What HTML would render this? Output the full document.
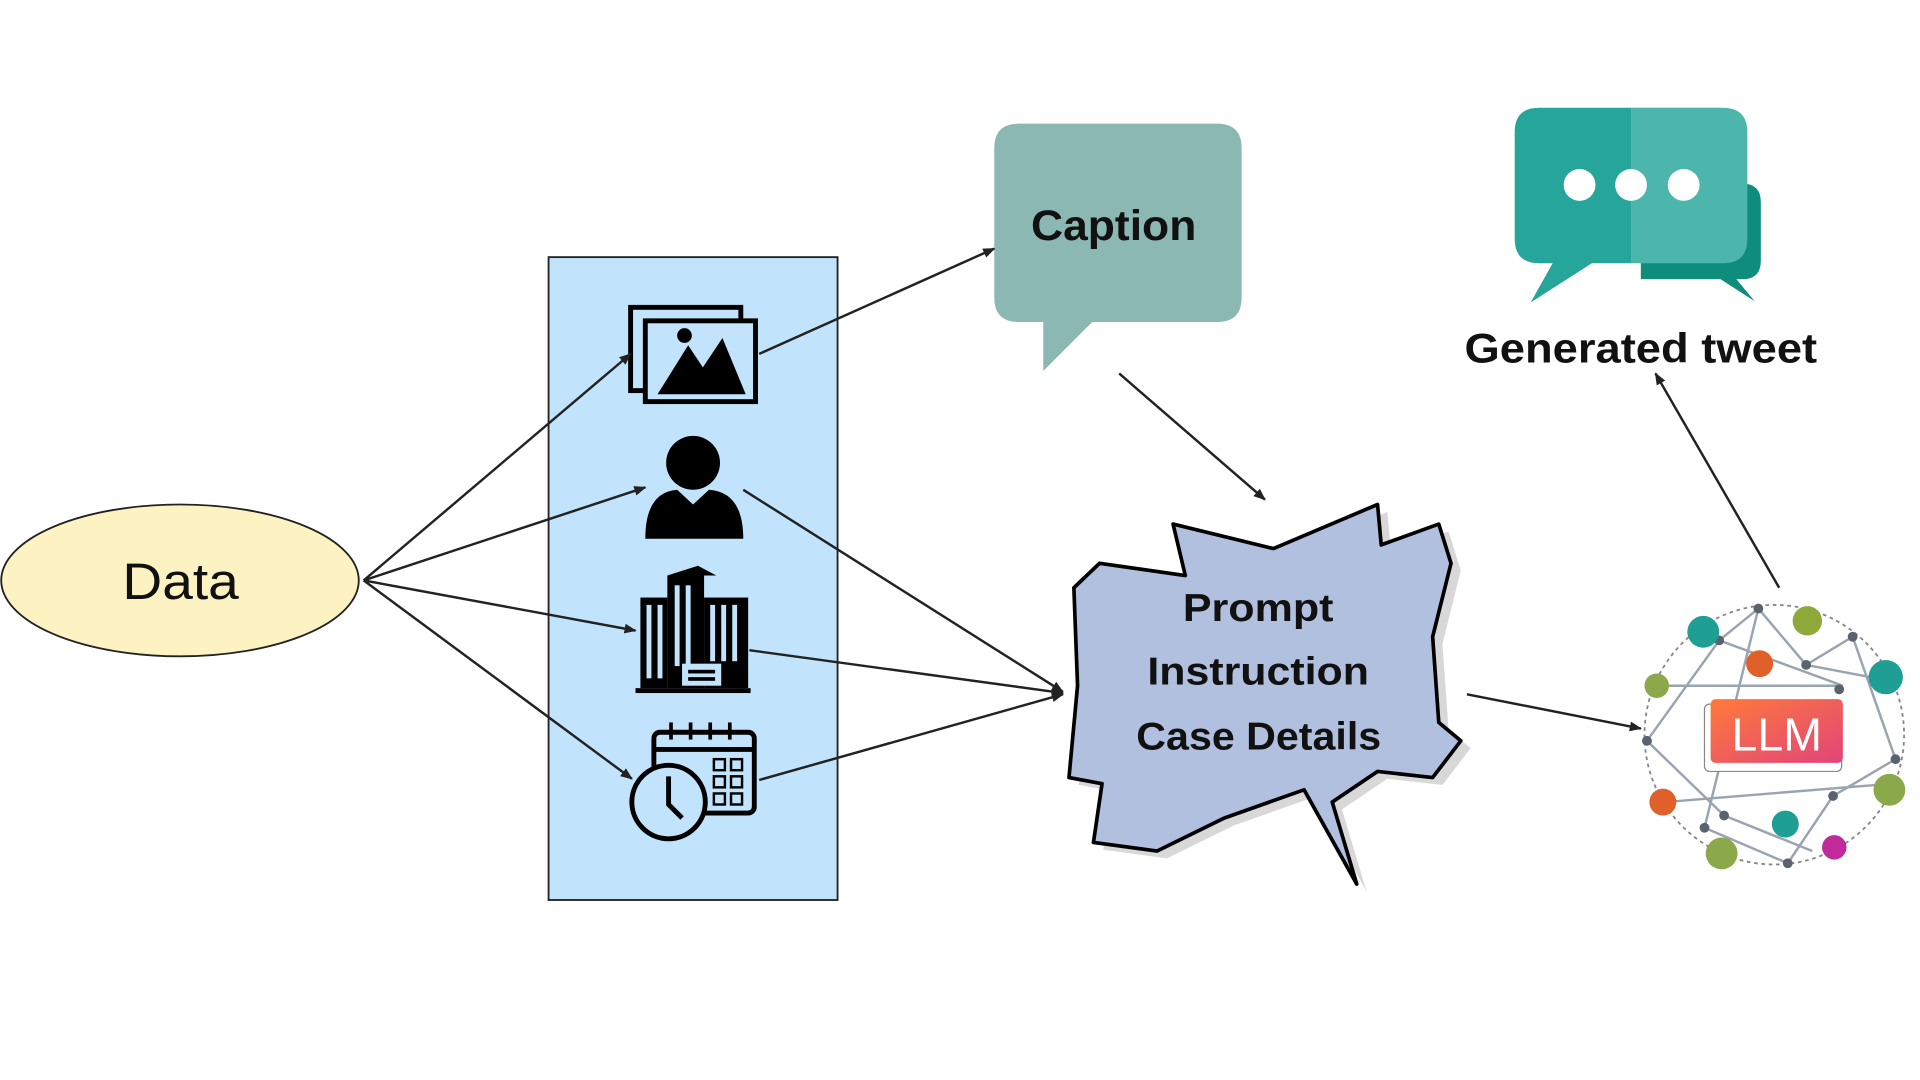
<!DOCTYPE html>
<html><head><meta charset="utf-8"><style>
html,body{margin:0;padding:0;background:#fff;width:1920px;height:1080px;overflow:hidden}
svg{display:block}
text{font-family:"Liberation Sans","DejaVu Sans",sans-serif}
</style></head><body>
<svg width="1920" height="1080" viewBox="0 0 1568 882" preserveAspectRatio="none" xmlns="http://www.w3.org/2000/svg">
<defs>
<marker id="a" markerWidth="10" markerHeight="10" refX="9" refY="5" orient="auto" markerUnits="userSpaceOnUse"><path d="M0,1 L10,5 L0,9 Z" fill="#222"/></marker>
<linearGradient id="g" x1="0" y1="0" x2="1" y2="1"><stop offset="0" stop-color="#ff7a3a"/><stop offset="1" stop-color="#e0457a"/></linearGradient>
</defs>
<rect width="1568" height="882" fill="#fff"/>
<ellipse cx="147" cy="474" rx="146" ry="62" fill="#fdf3c2" stroke="#222" stroke-width="1.5"/>
<text x="100" y="489" font-size="42" textLength="95" lengthAdjust="spacingAndGlyphs" fill="#111">Data</text>
<rect x="448" y="210" width="236" height="525" fill="#c1e4fc" stroke="#222" stroke-width="1.5"/>
<rect x="515" y="251" width="90" height="68" fill="none" stroke="#000" stroke-width="4"/>
<rect x="527" y="262" width="90" height="66" fill="#c1e4fc" stroke="#000" stroke-width="4"/>
<path d="M537,322 L562,282 L574,300 L590,276 L609,322 Z" fill="#000"/>
<circle cx="559" cy="274" r="6" fill="#000"/>
<circle cx="566" cy="378" r="22" fill="#000"/>
<path d="M527,440 Q527,402 553,400 L566,412 L579,400 Q607,402 607,440 Z" fill="#000"/>
<g fill="#000">
<rect x="519" y="562" width="94" height="4"/>
<rect x="523" y="488" width="22" height="74"/>
<rect x="545" y="470" width="30" height="92"/>
<rect x="575" y="488" width="36" height="74"/>
<path d="M545,470 L570,462 L585,470 Z"/>
</g>
<g fill="#c1e4fc">
<rect x="528" y="494" width="4" height="60"/><rect x="537" y="494" width="4" height="60"/>
<rect x="551" y="478" width="4" height="66"/><rect x="560" y="478" width="4" height="66"/>
<rect x="580" y="494" width="4" height="46"/><rect x="589" y="494" width="4" height="46"/><rect x="598" y="494" width="4" height="46"/>
<rect x="557" y="542" width="32" height="18"/>
</g>
<rect x="562" y="547" width="22" height="3" fill="#000"/><rect x="562" y="553" width="22" height="3" fill="#000"/>
<rect x="534" y="598" width="82" height="66" rx="5" fill="none" stroke="#000" stroke-width="4"/>
<line x1="534" y1="612" x2="616" y2="612" stroke="#000" stroke-width="4"/>
<g stroke="#000" stroke-width="3"><line x1="548" y1="590" x2="548" y2="604"/><line x1="564" y1="590" x2="564" y2="604"/><line x1="580" y1="590" x2="580" y2="604"/><line x1="596" y1="590" x2="596" y2="604"/></g>
<g fill="none" stroke="#000" stroke-width="2"><rect x="583" y="620" width="9" height="9"/><rect x="597" y="620" width="9" height="9"/><rect x="583" y="634" width="9" height="9"/><rect x="597" y="634" width="9" height="9"/><rect x="583" y="648" width="9" height="9"/><rect x="597" y="648" width="9" height="9"/></g>
<circle cx="546" cy="655" r="30" fill="#c1e4fc" stroke="#000" stroke-width="4"/>
<path d="M546,634 L546,657 L557,668" fill="none" stroke="#000" stroke-width="4"/>
<path d="M832,101 H994 Q1014,101 1014,121 V243 Q1014,263 994,263 H892 L852,303 V263 H832 Q812,263 812,243 V121 Q812,101 832,101 Z" fill="#8cb8b3"/>
<text x="842" y="196" font-size="35" font-weight="bold" textLength="135" lengthAdjust="spacingAndGlyphs" fill="#111">Caption</text>
<path d="M1340,150 H1423 Q1438,150 1438,165 V213 Q1438,228 1423,228 H1418 L1433,246 L1405,228 H1340 Z" fill="#0e8c7c"/>
<path d="M1257,88 H1332 V215 H1300 L1250,247 L1268,215 H1257 Q1237,215 1237,195 V108 Q1237,88 1257,88 Z" fill="#26a69a"/>
<path d="M1332,88 H1407 Q1427,88 1427,108 V195 Q1427,215 1407,215 H1332 Z" fill="#4db6ac"/>
<circle cx="1290" cy="151" r="13" fill="#fff"/><circle cx="1332" cy="151" r="13" fill="#fff"/><circle cx="1375" cy="151" r="13" fill="#fff"/>
<text x="1196" y="296" font-size="34" font-weight="bold" textLength="288" lengthAdjust="spacingAndGlyphs" fill="#111">Generated tweet</text>
<g transform="translate(8,6)"><path d="M958,428 L1040,448 L1125,412 L1128,445 L1175,428 L1185,460 L1170,520 L1175,590 L1193,605 L1170,635 L1125,630 L1088,655 L1108,722 L1065,645 L1000,668 L945,695 L893,688 L900,640 L873,635 L880,560 L877,480 L898,460 L968,470 Z" fill="#d8d8d8"/></g>
<path d="M958,428 L1040,448 L1125,412 L1128,445 L1175,428 L1185,460 L1170,520 L1175,590 L1193,605 L1170,635 L1125,630 L1088,655 L1108,722 L1065,645 L1000,668 L945,695 L893,688 L900,640 L873,635 L880,560 L877,480 L898,460 L968,470 Z" fill="#b0c0de" stroke="#000" stroke-width="3" stroke-linejoin="round"/>
<g font-size="32" font-weight="bold" fill="#111" lengthAdjust="spacingAndGlyphs">
<text x="966" y="507" textLength="123" lengthAdjust="spacingAndGlyphs">Prompt</text>
<text x="937" y="559" textLength="181" lengthAdjust="spacingAndGlyphs">Instruction</text>
<text x="928" y="612" textLength="200" lengthAdjust="spacingAndGlyphs">Case Details</text></g>
<circle cx="1449" cy="600" r="106" fill="none" stroke="#888" stroke-width="1.5" stroke-dasharray="3,3"/>
<g stroke="#9aa4b0" stroke-width="2">
<line x1="1436" y1="497" x2="1404" y2="523"/><line x1="1436" y1="497" x2="1475" y2="543"/><line x1="1436" y1="497" x2="1392" y2="676"/>
<line x1="1513" y1="520" x2="1475" y2="543"/><line x1="1513" y1="520" x2="1548" y2="620"/><line x1="1345" y1="605" x2="1404" y2="523"/>
<line x1="1345" y1="605" x2="1408" y2="666"/><line x1="1475" y1="543" x2="1538" y2="555"/><line x1="1497" y1="650" x2="1548" y2="620"/>
<line x1="1497" y1="650" x2="1460" y2="705"/><line x1="1408" y1="666" x2="1480" y2="695"/><line x1="1404" y1="523" x2="1505" y2="560"/>
<line x1="1350" y1="560" x2="1505" y2="560"/><line x1="1392" y1="676" x2="1460" y2="705"/><line x1="1360" y1="655" x2="1545" y2="640"/>
</g>
<g fill="#5a6270"><circle cx="1436" cy="497" r="4"/><circle cx="1513" cy="520" r="4"/><circle cx="1475" cy="543" r="4"/><circle cx="1404" cy="523" r="4"/><circle cx="1345" cy="605" r="4"/><circle cx="1548" cy="620" r="4"/><circle cx="1497" cy="650" r="4"/><circle cx="1408" cy="666" r="4"/><circle cx="1460" cy="705" r="4"/><circle cx="1392" cy="676" r="4"/><circle cx="1502" cy="563" r="4"/></g>
<circle cx="1391" cy="516" r="13" fill="#1f9e94"/><circle cx="1476" cy="507" r="12" fill="#8ea83a"/><circle cx="1437" cy="542" r="11" fill="#e0602a"/>
<circle cx="1353" cy="560" r="10" fill="#8ba84a"/><circle cx="1540" cy="553" r="14" fill="#1f9e94"/><circle cx="1543" cy="645" r="13" fill="#8ba84a"/>
<circle cx="1358" cy="655" r="11" fill="#e0602a"/><circle cx="1458" cy="673" r="11" fill="#1f9e94"/><circle cx="1498" cy="692" r="10" fill="#c02a9a"/><circle cx="1406" cy="697" r="13" fill="#8ba84a"/>
<rect x="1392" y="575" width="112" height="55" rx="4" fill="#fff" stroke="#888"/>
<rect x="1397" y="571" width="108" height="52" rx="4" fill="url(#g)"/>
<text x="1451" y="613" font-size="38" text-anchor="middle" fill="#fff">LLM</text>
<g stroke="#222" stroke-width="2" fill="none" marker-end="url(#a)">
<line x1="297" y1="474" x2="515" y2="289"/><line x1="297" y1="474" x2="527" y2="398"/>
<line x1="297" y1="474" x2="519" y2="515"/><line x1="297" y1="474" x2="516" y2="636"/>
<line x1="620" y1="289" x2="812" y2="203"/>
<line x1="607" y1="400" x2="868" y2="565"/><line x1="612" y1="531" x2="868" y2="566"/><line x1="620" y1="637" x2="868" y2="567"/>
<line x1="914" y1="305" x2="1033" y2="408"/>
<line x1="1198" y1="567" x2="1340" y2="595"/>
<line x1="1453" y1="480" x2="1352" y2="305"/>
</g>
</svg>
</body></html>
